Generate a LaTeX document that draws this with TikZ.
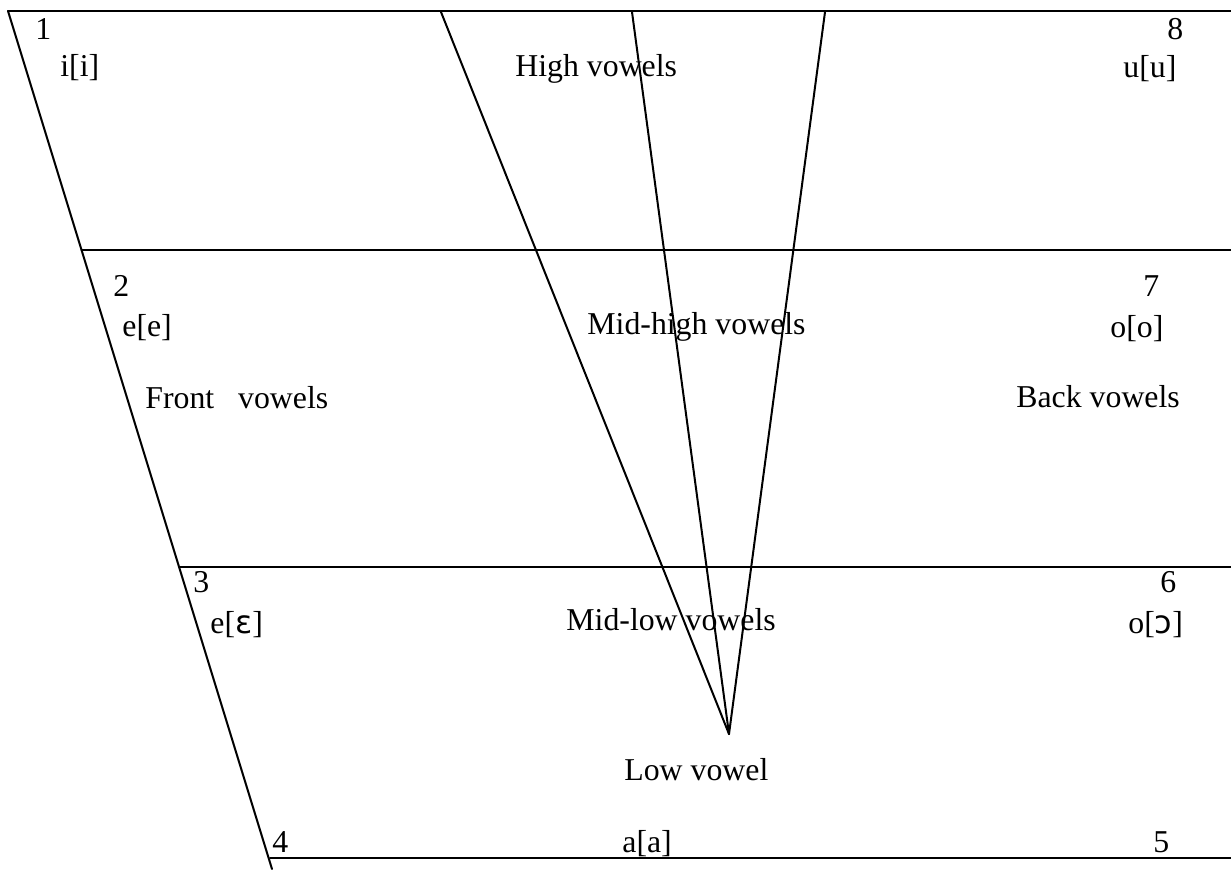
\documentclass[tikz,border=0pt]{standalone}
\usepackage{fontspec}
\setmainfont{Liberation Serif}
\newfontfamily\ipafont{DejaVu Sans}
\usetikzlibrary{positioning}

\begin{document}
\begin{tikzpicture}[
    x=0.5pt,
    y=-0.5pt,
    font=\fontsize{15.9}{19}\selectfont,
    line join=round,
    line cap=round,
    txt/.style={
        inner sep=0pt,
        anchor=base west
    },
    rule/.style={line width=1pt}
]
\useasboundingbox (0,0) rectangle (1231,869);

% =========================
% Corner points
% =========================
\coordinate (tl) at (8,11);
\coordinate (tr) at (1231,11);
\coordinate (bl) at (272,869);
\coordinate (apex) at (729,734);

\coordinate (hl2) at (81.6,250);
\coordinate (hr2) at (1231,250);
\coordinate (hl3) at (179,567);
\coordinate (hr3) at (1231,567);
\coordinate (hl4) at (270,858);
\coordinate (hr4) at (1231,858);

\coordinate (fan1) at (441,12);
\coordinate (fan2) at (632,12);
\coordinate (fan3) at (825,12);

% =========================
% Frame and fan
% =========================
\draw[rule] (tl) -- (tr);
\draw[rule] (tl) -- (bl);
\draw[rule] (hl2) -- (hr2);
\draw[rule] (hl3) -- (hr3);
\draw[rule] (hl4) -- (hr4);

\draw[rule] (fan1) -- (apex);
\draw[rule] (fan2) -- (apex);
\draw[rule] (fan3) -- (apex);

% =========================
% High row
% =========================
\node[txt] (num1) at (35,39) {1};
\node[txt] (vi) at (60,76) {i[i]};
\node[txt] (high) at (515,76) {High vowels};
\node[txt] (num8) at (1167,39) {8};
\node[txt] (vu) at (1123,77) {u[u]};

% =========================
% Mid-high row
% =========================
\node[txt] (num2) at (113,296) {2};
\node[txt] (ve) at (122,336) {e[e]};
\node[txt] (midhigh) at (587,334) {Mid-high vowels};
\node[txt] (num7) at (1143,296) {7};
\node[txt] (vo) at (1110,337) {o[o]};

\node[txt] (front) at (145,408) {Front\ \ \ vowels};
\node[txt] (back) at (1016,407) {Back vowels};

% =========================
% Mid-low row
% =========================
\node[txt] (num3) at (193,592) {3};
\node[txt] (veps) at (210,633) {e[{\ipafont ɛ}]};
\node[txt] (midlow) at (566,630) {Mid-low vowels};
\node[txt] (num6) at (1160,592) {6};
\node[txt] (vopen) at (1128,633) {o[{\ipafont ɔ}]};

% =========================
% Low row
% =========================
\node[txt] (low) at (624,780) {Low vowel};
\node[txt] (num4) at (272,852) {4};
\node[txt] (va) at (622,852) {a[a]};
\node[txt] (num5) at (1153,852) {5};

\end{tikzpicture}
\end{document}
